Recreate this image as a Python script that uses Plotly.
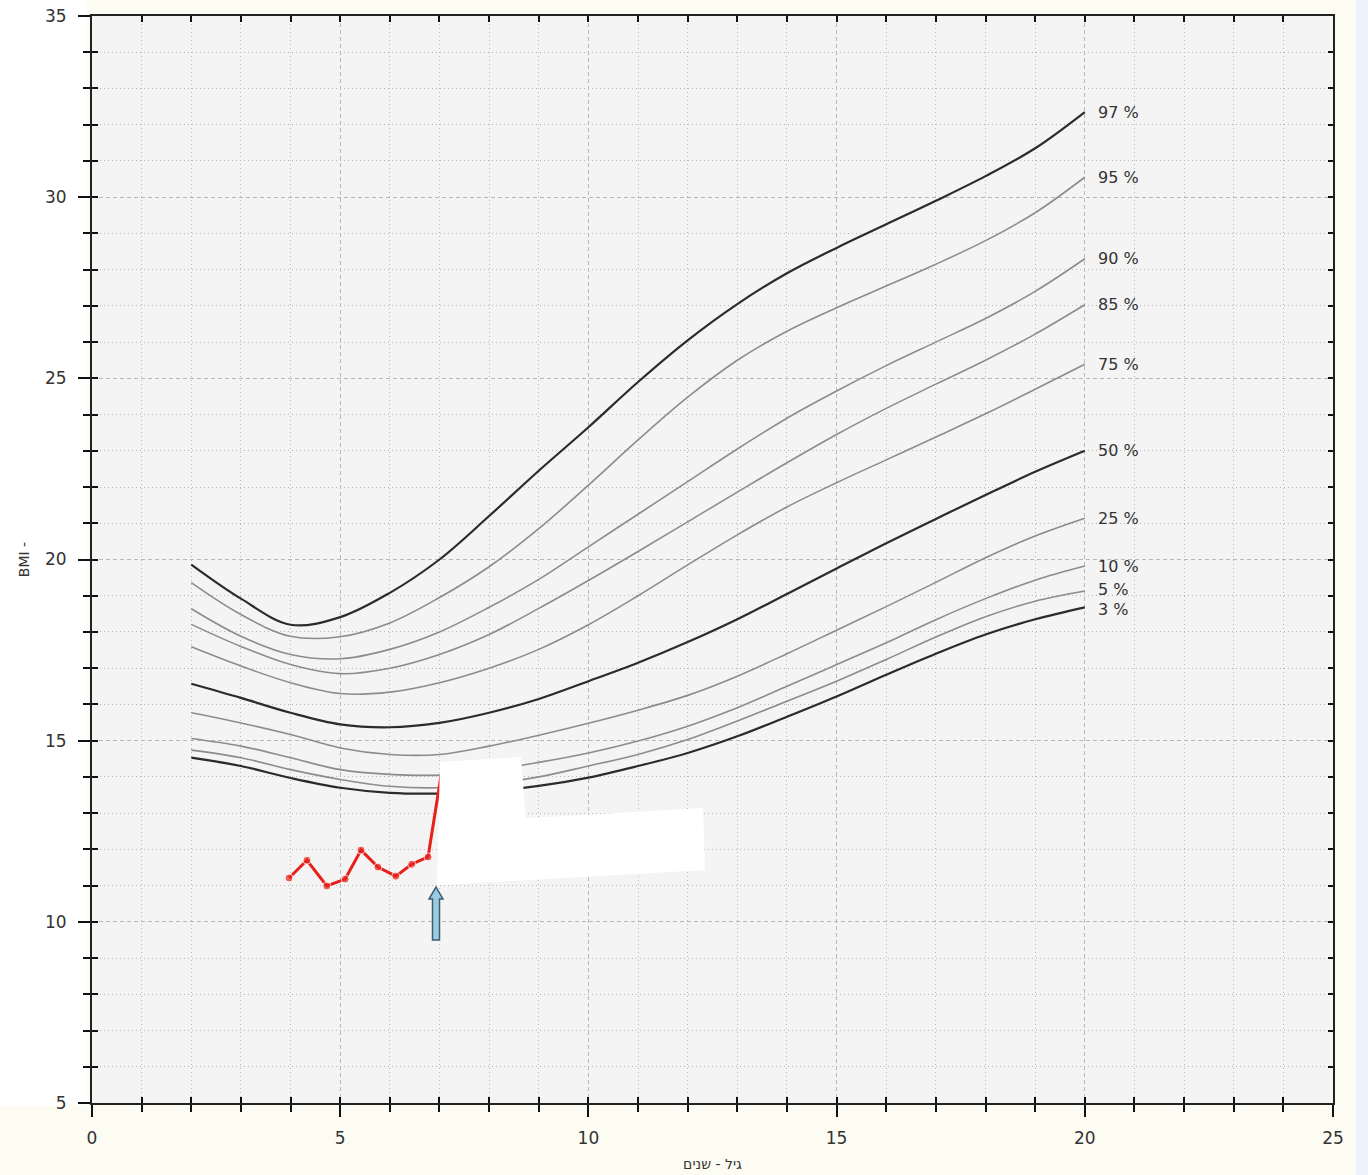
import plotly.graph_objects as go

ages = [2, 3, 4, 5, 6, 7, 8, 9, 10, 11, 12, 13, 14, 15, 16, 17, 18, 19, 20]
p97 = [19.86, 18.92, 18.2, 18.41, 19.08, 20.0, 21.2, 22.45, 23.65, 24.9, 26.05, 27.05, 27.9, 28.6, 29.25, 29.9, 30.58, 31.35, 32.35]
p95 = [19.36, 18.48, 17.88, 17.87, 18.25, 18.95, 19.8, 20.85, 22.05, 23.3, 24.48, 25.5, 26.3, 26.95, 27.55, 28.15, 28.8, 29.57, 30.55]
p90 = [18.64, 17.88, 17.38, 17.26, 17.52, 18.0, 18.68, 19.45, 20.35, 21.25, 22.15, 23.05, 23.9, 24.65, 25.35, 26.0, 26.65, 27.4, 28.3]
p85 = [18.21, 17.6, 17.1, 16.85, 17.0, 17.38, 17.93, 18.65, 19.42, 20.22, 21.04, 21.86, 22.67, 23.45, 24.17, 24.84, 25.5, 26.22, 27.03]
p75 = [17.59, 17.06, 16.6, 16.3, 16.34, 16.6, 17.0, 17.52, 18.2, 19.0, 19.85, 20.68, 21.45, 22.12, 22.75, 23.38, 24.02, 24.7, 25.39]
p50 = [16.57, 16.18, 15.77, 15.45, 15.37, 15.49, 15.77, 16.15, 16.64, 17.15, 17.72, 18.35, 19.05, 19.75, 20.45, 21.12, 21.78, 22.42, 23.0]
p25 = [15.77, 15.49, 15.17, 14.8, 14.62, 14.62, 14.85, 15.15, 15.48, 15.84, 16.25, 16.78, 17.4, 18.05, 18.7, 19.37, 20.05, 20.65, 21.14]
p10 = [15.06, 14.85, 14.53, 14.2, 14.07, 14.05, 14.18, 14.4, 14.66, 14.99, 15.4, 15.91, 16.5, 17.1, 17.7, 18.34, 18.92, 19.43, 19.82]
p5 = [14.74, 14.53, 14.2, 13.93, 13.74, 13.7, 13.8, 14.0, 14.3, 14.62, 15.03, 15.54, 16.09, 16.64, 17.24, 17.86, 18.42, 18.85, 19.13]
p3 = [14.53, 14.3, 13.97, 13.7, 13.56, 13.54, 13.6, 13.75, 13.98, 14.3, 14.66, 15.12, 15.66, 16.22, 16.82, 17.4, 17.93, 18.35, 18.68]

percentile_labels = ["97 %", "95 %", "90 %", "85 %", "75 %", "50 %", "25 %", "10 %", "5 %", "3 %"]
percentile_series = [p97, p95, p90, p85, p75, p50, p25, p10, p5, p3]
dark_series = {"97 %", "50 %", "3 %"}
label_nudge = {"5 %": 2, "3 %": -2}

patient_age = [3.97, 4.33, 4.73, 5.10, 5.42, 5.76, 6.12, 6.44, 6.77, 7.05]
patient_bmi = [11.21, 11.70, 10.99, 11.18, 11.98, 11.51, 11.26, 11.59, 11.79, 14.2]
patient_marker = [8, 8, 8, 8, 8, 8, 8, 8, 8, 0]

x_title = "גיל - שנים"
y_title = "BMI -"

FONT = "DejaVu Sans, Verdana, sans-serif"
GRID = "#b8b8b8"

fig = go.Figure()

for lab, ser in zip(percentile_labels, percentile_series):
    dark = lab in dark_series
    fig.add_trace(go.Scatter(
        x=ages, y=ser, mode="lines", line_shape="spline", line_smoothing=1.0,
        line=dict(color="#2b2b2b" if dark else "#8c8c8c", width=2.2 if dark else 1.6),
        showlegend=False, hoverinfo="skip"))
    fig.add_annotation(x=ages[-1], y=ser[-1], text=lab, showarrow=False,
                       xanchor="left", yanchor="middle", xshift=11, yshift=label_nudge.get(lab, 0),
                       font=dict(family=FONT, size=16, color="#333333"))

fig.add_trace(go.Scatter(
    x=patient_age, y=patient_bmi, mode="lines+markers",
    line=dict(color="#e8201a", width=3),
    marker=dict(color="#e8201a", size=patient_marker),
    showlegend=False, hoverinfo="skip"))

# dummy traces to create overlay axes for crossing / inside ticks
fig.add_trace(go.Scatter(x=[None], y=[None], xaxis="x2", yaxis="y2", showlegend=False, hoverinfo="skip"))
fig.add_trace(go.Scatter(x=[None], y=[None], xaxis="x3", yaxis="y3", showlegend=False, hoverinfo="skip"))

tickfont = dict(family=FONT, size=17, color="#333333")
MINOR_DASH = "1px,3px"
MAJOR_DASH = "4px,3px"

fig.update_layout(
    width=1368, height=1175,
    margin=dict(l=92, r=35, t=16, b=72, autoexpand=False),
    paper_bgcolor="#fcfcf3",
    plot_bgcolor="#f4f4f4",
    showlegend=False,
    xaxis=dict(range=[0, 25], tickmode="linear", tick0=0, dtick=5, automargin=False,
               ticks="outside", ticklen=12, tickwidth=2, tickcolor="#111",
               showline=True, linecolor="#222", linewidth=2, mirror=True,
               showgrid=True, gridcolor=GRID, griddash=MAJOR_DASH, gridwidth=1,
               zeroline=False, tickfont=tickfont, ticklabelstandoff=7, ticklabeloverflow="allow",
               title=dict(text=x_title, font=dict(family=FONT, size=14, color="#333"), standoff=12),
               minor=dict(tick0=0, dtick=1, ticks="outside", ticklen=7, tickwidth=2, tickcolor="#111",
                          showgrid=True, gridcolor=GRID, griddash=MINOR_DASH, gridwidth=1)),
    yaxis=dict(range=[5, 35], tickmode="linear", tick0=5, dtick=5, automargin=False,
               ticks="outside", ticklen=12, tickwidth=2, tickcolor="#111",
               showline=True, linecolor="#222", linewidth=2, mirror=True,
               showgrid=True, gridcolor=GRID, griddash=MAJOR_DASH, gridwidth=1,
               zeroline=False, tickfont=tickfont, ticklabelstandoff=8, ticklabeloverflow="allow",
               title=dict(text=y_title, font=dict(family=FONT, size=14, color="#333"), standoff=12),
               minor=dict(tick0=5, dtick=1, ticks="outside", ticklen=7, tickwidth=2, tickcolor="#111",
                          showgrid=True, gridcolor=GRID, griddash=MINOR_DASH, gridwidth=1)),
    xaxis2=dict(range=[0, 25], overlaying="x", anchor="y", side="bottom", automargin=False,
                tickmode="linear", tick0=0, dtick=5, ticks="inside", ticklen=6, tickwidth=2, tickcolor="#111",
                showticklabels=False, showgrid=False, showline=False, zeroline=False,
                minor=dict(tick0=0, dtick=1, ticks="inside", ticklen=6, tickwidth=2, tickcolor="#111", showgrid=False)),
    yaxis2=dict(range=[5, 35], overlaying="y", anchor="x", side="left", automargin=False,
                tickmode="linear", tick0=5, dtick=5, ticks="inside", ticklen=6, tickwidth=2, tickcolor="#111",
                showticklabels=False, showgrid=False, showline=False, zeroline=False,
                minor=dict(tick0=5, dtick=1, ticks="inside", ticklen=6, tickwidth=2, tickcolor="#111", showgrid=False)),
    xaxis3=dict(range=[0, 25], overlaying="x", anchor="y", side="top", automargin=False,
                tickmode="linear", tick0=0, dtick=5, ticks="inside", ticklen=6, tickwidth=2, tickcolor="#111",
                showticklabels=False, showgrid=False, showline=False, zeroline=False,
                minor=dict(tick0=0, dtick=1, ticks="inside", ticklen=6, tickwidth=2, tickcolor="#111", showgrid=False)),
    yaxis3=dict(range=[5, 35], overlaying="y", anchor="x", side="right", automargin=False,
                tickmode="linear", tick0=5, dtick=5, ticks="inside", ticklen=5, tickwidth=2, tickcolor="#111",
                showticklabels=False, showgrid=False, showline=False, zeroline=False,
                minor=dict(tick0=5, dtick=1, ticks="inside", ticklen=5, tickwidth=2, tickcolor="#111", showgrid=False)),
)

# background decorations (paper coords)
fig.add_shape(type="rect", xref="paper", yref="paper", x0=-0.075, x1=-0.004, y0=-0.002, y1=1.02,
              fillcolor="#ffffff", line_width=0, layer="below")
fig.add_shape(type="rect", xref="paper", yref="paper", x0=1.0185, x1=1.03, y0=-0.07, y1=1.02,
              fillcolor="#edf3fa", line_width=0, layer="below")

# white redaction patch
fig.add_shape(type="path", xref="x", yref="y",
              path="M 7.01 14.41 L 8.64 14.55 L 8.74 12.86 L 12.31 13.14 L 12.35 11.43 L 6.95 11.01 Z",
              fillcolor="#ffffff", line_width=0, layer="above")

# block arrow pointing up
fig.add_shape(type="path", xref="x", yref="y", xsizemode="pixel", ysizemode="pixel",
              xanchor=6.93, yanchor=10.96,
              path="M 0 0 L 7 -12 L 3.5 -12 L 3.5 -53 L -3.5 -53 L -3.5 -12 L -7 -12 Z",
              fillcolor="#9ccbe0", line=dict(color="#3b5f78", width=1.5), layer="above")

fig.write_html("out.html", config={"displayModeBar": False},
               post_script="document.body.style.margin='0';document.body.style.overflow='hidden';")
